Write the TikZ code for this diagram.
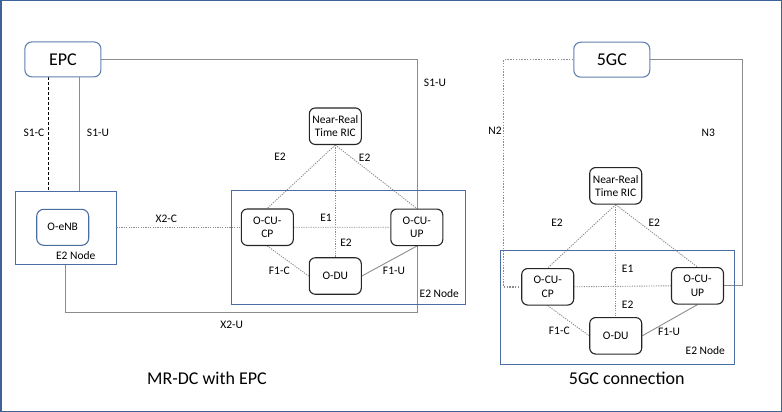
\documentclass[tikz,border=0pt]{standalone}
\usepackage{fontspec}
\setmainfont{Carlito}
\pgfdeclarelayer{background}
\pgfsetlayers{background,main}
\definecolor{frameblue}{RGB}{61,100,150}
\definecolor{boxblue}{RGB}{74,110,162}
\definecolor{coreblue}{RGB}{96,128,176}
\definecolor{linegray}{RGB}{140,140,140}
\tikzset{
  corebox/.style={draw=coreblue, line width=1.1pt, rounded corners=7pt, fill=white, minimum width=76pt, minimum height=35pt, font=\fontsize{18}{20}\selectfont, inner sep=0pt},
  fnbox/.style={draw=black!85, line width=1.1pt, rounded corners=6pt, fill=white, minimum width=52pt, minimum height=36.5pt, align=center, font=\fontsize{11.5}{13.5}\selectfont, inner sep=0pt},
  enbbox/.style={draw=boxblue, line width=1.1pt, rounded corners=7pt, fill=white, minimum width=52pt, minimum height=36pt, font=\fontsize{11.5}{13.5}\selectfont, inner sep=0pt},
  grpbox/.style={draw=boxblue, line width=1pt, minimum width=234.3pt, minimum height=114pt, inner sep=0pt},
  lbl/.style={font=\fontsize{11.5}{13.5}\selectfont, inner sep=0pt},
  ttl/.style={font=\fontsize{18}{20}\selectfont, inner sep=0pt},
  solidlink/.style={draw=linegray, line width=0.9pt},
  dotlink/.style={draw=linegray, line width=0.9pt, dash pattern=on 1.2pt off 1.2pt},
  thickdot/.style={draw=linegray, line width=1.4pt, dash pattern=on 1.4pt off 1.4pt},
  dashlink/.style={draw=black, line width=1pt, dash pattern=on 3pt off 2pt},
}
\begin{document}
\begin{tikzpicture}[x=1pt,y=-1pt]
\useasboundingbox (0,0) rectangle (782,412);
\draw[frameblue, line width=1.5pt] (0.75,0.75) rectangle (781.25,411.25);

% ---------- left: MR-DC with EPC ----------
\node[grpbox] (grpL) at (348.8,247) {};
\node[grpbox, minimum width=100.3pt, minimum height=72.6pt, fill=white] (enbgrp) at (65.9,228) {};
\node[corebox] (epc) at (62.9,59.4) {EPC};
\node[enbbox] (enb) at (62.7,227.3) {O-eNB};
\node[fnbox] (ricL) at (335.3,126.2) {Near-Real\\Time RIC};
\node[fnbox] (cucpL) at (267.3,227.2) {O-CU-\\CP};
\node[fnbox] (cuupL) at (416.8,227.3) {O-CU-\\UP};
\node[fnbox] (duL) at (335.3,276) {O-DU};

\coordinate (s1cx) at (48.7,0);
\coordinate (s1ux) at (79.7,0);
\coordinate (epcturn) at (417.3,312.3);

\begin{pgfonlayer}{background}
\draw[solidlink] (epc.east) -| (epcturn) -| (enbgrp.south);
\draw[dashlink] (epc.south -| s1cx) -- (enbgrp.north -| s1cx);
\draw[solidlink] (epc.south -| s1ux) -- (enbgrp.north -| s1ux);
\draw[dotlink] (enbgrp.east |- cucpL.west) -- (cucpL.west);
\draw[dotlink] (ricL.south) -- (cucpL.north);
\draw[dotlink] (ricL.south) -- (cuupL.north);
\draw[dotlink] (ricL.south) -- (duL.north);
\draw[dotlink] (cucpL.east) -- (cuupL.west);
\draw[dotlink] (cucpL.south) -- (duL.west);
\draw[solidlink] (duL.east) -- (cuupL.south);
\end{pgfonlayer}

\node[lbl] (l1) at (435,83) {S1-U};
\node[lbl] (l2) at (34,132.7) {S1-C};
\node[lbl] (l3) at (98,132.7) {S1-U};
\node[lbl] (l4) at (75.7,255.3) {E2 Node};
\node[lbl] (l5) at (166.3,219) {X2-C};
\node[lbl] (l6) at (280,156.7) {E2};
\node[lbl] (l7) at (364.7,157.7) {E2};
\node[lbl] (l8) at (326,217.7) {E1};
\node[lbl] (l9) at (346,243) {E2};
\node[lbl] (l10) at (279.3,271.3) {F1-C};
\node[lbl] (l11) at (394,271.3) {F1-U};
\node[lbl] (l12) at (439.3,293.3) {E2 Node};
\node[lbl] (l13) at (231.7,325) {X2-U};
\node[ttl] (t1) at (207,378) {MR-DC with EPC};

% ---------- right: 5GC connection ----------
\node[grpbox] (grpR) at (617.2,307) {};
\node[corebox] (gc) at (611.8,59.7) {5GC};
\node[fnbox] (ricR) at (615.7,185.8) {Near-Real\\Time RIC};
\node[fnbox] (cucpR) at (547.7,286.8) {O-CU-\\CP};
\node[fnbox] (cuupR) at (697.5,285.8) {O-CU-\\UP};
\node[fnbox] (duR) at (615.7,335.8) {O-DU};

\coordinate (n2turn) at (503.7,286.8);
\coordinate (n3turn) at (742,285.8);
\begin{pgfonlayer}{background}
\draw[thickdot] (gc.west) -| (n2turn) -- (cucpR.west);
\draw[solidlink] (gc.east) -| (n3turn) -- (cuupR.east);
\draw[dotlink] (ricR.south) -- (cucpR.north);
\draw[dotlink] (ricR.south) -- (cuupR.north);
\draw[dotlink] (ricR.south) -- (duR.north);
\draw[dotlink] (cucpR.east) -- (cuupR.west);
\draw[dotlink] (cucpR.south) -- (duR.west);
\draw[solidlink] (duR.east) -- (cuupR.south);
\end{pgfonlayer}

\node[lbl] (r1) at (495,131) {N2};
\node[lbl] (r2) at (708.3,132.7) {N3};
\node[lbl] (r3) at (557,222.7) {E2};
\node[lbl] (r4) at (654.3,222.7) {E2};
\node[lbl] (r5) at (627.7,268.3) {E1};
\node[lbl] (r6) at (627.7,304.3) {E2};
\node[lbl] (r7) at (559.3,331) {F1-C};
\node[lbl] (r8) at (669,332.3) {F1-U};
\node[lbl] (r9) at (705.3,350.7) {E2 Node};
\node[ttl] (t2) at (626.7,378) {5GC connection};
\end{tikzpicture}
\end{document}
